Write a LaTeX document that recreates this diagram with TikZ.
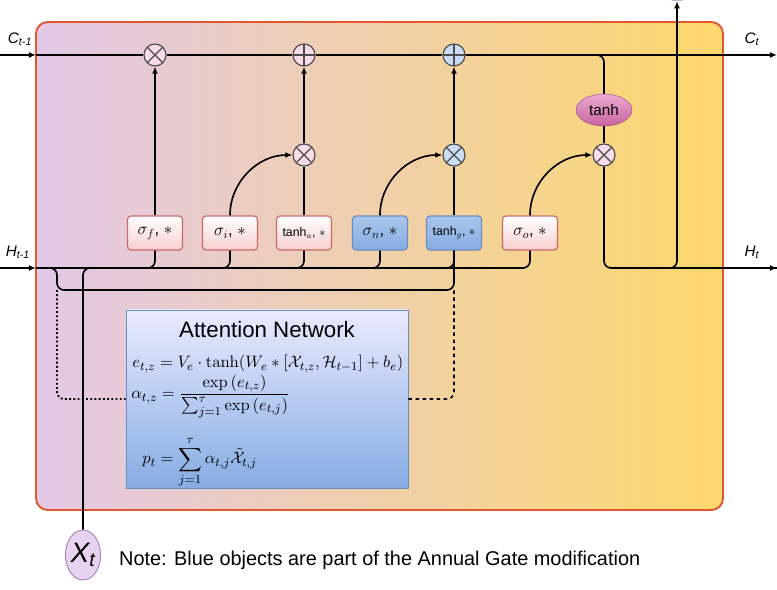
\documentclass[tikz,border=0pt]{standalone}
\usepackage{amsmath,amssymb}
\usepackage[no-math]{fontspec}
\setmainfont{Liberation Sans}
\usetikzlibrary{positioning,arrows.meta,shapes.geometric}

\definecolor{cellpurple}{HTML}{E3C8E8}
\definecolor{cellyellow}{HTML}{FDD86C}
\definecolor{cellborder}{HTML}{E0562F}
\definecolor{gatepink}{HTML}{F6CFCF}
\definecolor{gatered}{HTML}{C96A6A}
\definecolor{gateblue}{HTML}{86ACE3}
\definecolor{gatebluedark}{HTML}{6C8EBF}
\definecolor{oppink}{HTML}{F9DCEA}
\definecolor{opblue}{HTML}{CADDF4}
\definecolor{tanhtop}{HTML}{EBA9D3}
\definecolor{tanhbot}{HTML}{C8649E}
\definecolor{xtfill}{HTML}{E7D3F0}
\definecolor{xtborder}{HTML}{A584B8}

\begin{document}
\begin{tikzpicture}[x=0.03cm, y=-0.03cm,
    arr/.style={-{Latex[length=6pt,width=5pt]}, line width=1.4pt},
    wire/.style={line width=1.4pt, rounded corners=6pt},
    gate/.style={draw=gatered, line width=1pt, rounded corners=3pt, top color=white, bottom color=gatepink,
        minimum width=1.65cm, minimum height=1.02cm, inner sep=1pt, font=\fontsize{14}{16}\selectfont},
    bgate/.style={gate, draw=gatebluedark, top color=gateblue!70, bottom color=gateblue},
    mult/.style={circle, draw=black!70, line width=1pt, fill=oppink, minimum size=0.66cm, inner sep=0pt,
        path picture={\draw[black!70, line width=1pt] (path picture bounding box.north west) -- (path picture bounding box.south east)
            (path picture bounding box.north east) -- (path picture bounding box.south west);}},
    plus/.style={mult, path picture={\draw[black!70, line width=1pt] (path picture bounding box.north) -- (path picture bounding box.south)
            (path picture bounding box.west) -- (path picture bounding box.east);}},
    lbl/.style={font=\fontsize{13}{15}\selectfont\itshape},
    eqn/.style={anchor=west, inner sep=0pt, scale=1.29, font=\fontsize{11}{13}\selectfont}]

    \useasboundingbox (0,0) rectangle (777,590);

    % cell body
    \draw[draw=cellborder, line width=1.6pt, rounded corners=10pt, left color=cellpurple, right color=cellyellow]
        (36,22) rectangle (723,510);

    % pointwise operations
    \node[mult] (fx) at (155,55) {};
    \node[plus] (ip) at (304,55) {};
    \node[plus, fill=opblue] (np) at (454,55) {};
    \node[mult] (ix) at (304,155) {};
    \node[mult, fill=opblue] (nx) at (454,155) {};
    \node[mult] (ox) at (604,155) {};
    \node[ellipse, draw=tanhbot!80!black, top color=tanhtop, bottom color=tanhbot, minimum width=1.68cm,
        minimum height=0.96cm, inner sep=0pt, font=\fontsize{13}{15}\selectfont] (th) at (604,110) {tanh};

    % gates
    \node[gate] (gf) at (155,233) {$\sigma_f$, $*$};
    \node[gate] (gi) at (230,233) {$\sigma_i$, $*$};
    \node[gate, font=\fontsize{10.5}{12}\selectfont] (ga) at (304,233) {tanh$_a$, $*$};
    \node[bgate] (gn) at (380,233) {$\sigma_n$, $*$};
    \node[bgate, font=\fontsize{10.5}{12}\selectfont] (gg) at (454,233) {tanh$_g$, $*$};
    \node[gate] (go) at (530,233) {$\sigma_o$, $*$};

    % attention block
    \node[draw=gatebluedark, thick, top color=blue!8, bottom color=gateblue, minimum width=8.46cm,
        minimum height=5.34cm] (att) at (267,399) {};
    \node[font=\fontsize{19}{22}\selectfont] (atttitle) at (267,330) {Attention Network};
    \node[eqn] (eq1) at (132,364)
        {$e_{t,z} = V_e \cdot \tanh(W_e * [\mathcal{X}_{t,z}, \mathcal{H}_{t-1}] + b_e)$};
    \node[eqn] (eq2) at (131,395)
        {$\alpha_{t,z} = \dfrac{\exp{(e_{t,z})}}{\smash[b]{\sum_{j=1}^{\tau}} \exp{(e_{t,j})}}$};
    \node[eqn] (eq3) at (142,462)
        {$p_t = \displaystyle\sum_{j=1}^{\tau} \alpha_{t,j} \tilde{\mathcal{X}}_{t,j}$};

    % input and note
    \node[ellipse, draw=xtborder, thick, fill=xtfill, minimum width=1.02cm, minimum height=1.5cm, inner sep=0pt,
        font=\fontsize{24}{26}\selectfont\itshape] (xt) at (83,555) {X\textsubscript{t}};
    \node[anchor=west, font=\fontsize{17}{20}\selectfont] (note) at (115,560)
        {Note: Blue objects are part of the Annual Gate modification};
    \node[circle, draw=xtborder, fill=xtfill, minimum size=0.9cm] (htop) at (677,-14) {};

    % boundary coordinates
    \coordinate (cin) at (0,55);
    \coordinate (cbox) at (36,55);
    \coordinate (cout) at (777,55);
    \coordinate (hin) at (0,268);
    \coordinate (hbox) at (36,268);
    \coordinate (hout) at (777,268);
    \coordinate (hsplit) at (660,268);
    \coordinate (xsplit) at (46,268);
    \coordinate (drop) at (57,290);
    \coordinate (dashturn) at (454,290);
    \node[lbl, anchor=south] (clab) at (20,50) {C\textsubscript{t-1}};
    \node[lbl, anchor=south] (cout lab) at (752,50) {C\textsubscript{t}};
    \node[lbl, anchor=south] (hlab) at (18,263) {H\textsubscript{t-1}};
    \node[lbl, anchor=south] (hout lab) at (752,263) {H\textsubscript{t}};

    % cell state
    \draw[arr] (cin) -- (cbox);
    \draw[wire] (cbox) -- (fx) -- (ip) -- (np);
    \draw[arr] (np) -- (cout);
    \draw[wire] (np.east) -| (th.north);
    \draw[wire] (th) -- (ox);
    \draw[wire] (ox.south) |- (hout);
    \draw[arr] (hout) ++(-20,0) -- (hout);
    \draw[wire, -{Latex[length=6pt,width=5pt]}] (hsplit) -| (htop.south);

    % hidden state feeding the gates
    \draw[arr] (hin) -- (hbox);
    \foreach \g in {gf,gi,ga,gn,gg,go}
        \draw[wire] (hbox) -| (\g.south);
    \draw[wire] (xsplit) -| (drop) -| (gg.south);
    \draw[wire] (xt.north) |- (105,268);

    % gates into the operations
    \draw[arr] (gf) -- (fx);
    \draw[arr] (gi.north) to[out=90, in=180] (ix.west);
    \draw[wire] (ga) -- (ix);
    \draw[arr] (ix) -- (ip);
    \draw[arr] (gn.north) to[out=90, in=180] (nx.west);
    \draw[wire] (gg) -- (nx);
    \draw[arr] (nx) -- (np);
    \draw[arr] (go.north) to[out=90, in=180] (ox.west);

    % attention links
    \draw[line width=1.6pt, dotted, rounded corners=6pt] (drop) |- (att.west);
    \draw[line width=1.4pt, dashed, rounded corners=6pt] (att.east) -| (dashturn);
\end{tikzpicture}
\end{document}
